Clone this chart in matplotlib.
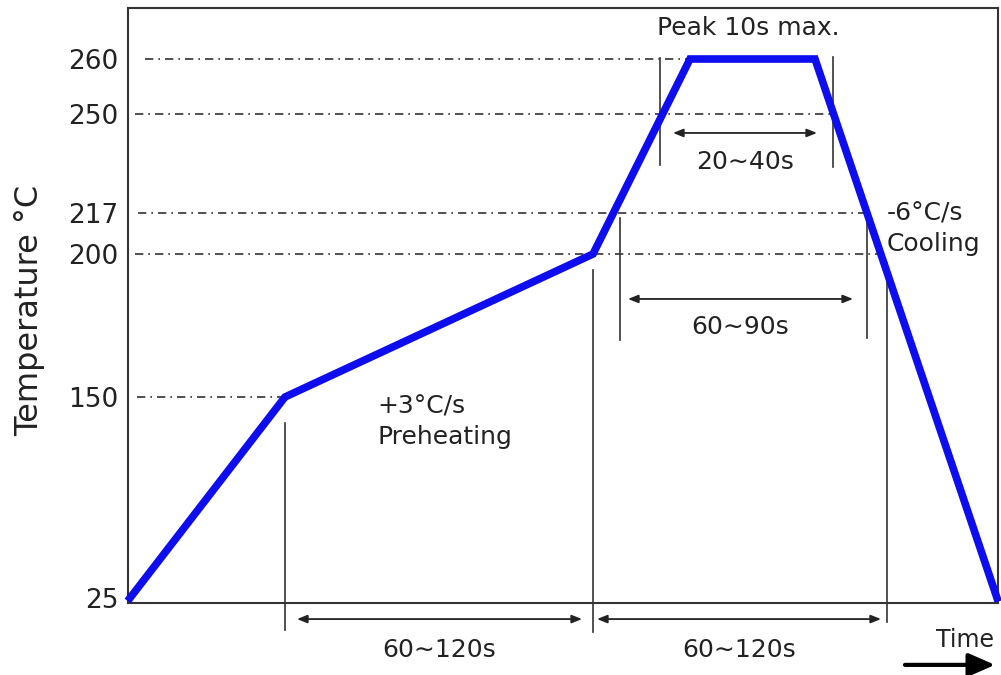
import numpy as np
import matplotlib
matplotlib.use('Agg')
import matplotlib.pyplot as plt

plt.rcParams['font.family'] = ['DejaVu Sans']

# reflow profile (time in arbitrary units, temperature in degC)
profile_time = [0, 155, 463, 560, 685, 867]
profile_temp = [25, 150, 200, 260, 260, 25]

# y ticks and where they sit on the (non linear) axis
tick_temps = [25, 150, 200, 217, 250, 260]
tick_pos = [0, 201, 344, 385, 484, 539]

# dash-dot reference levels: temp, start time, end time
ref_temps = [260, 250, 217, 200, 150]
ref_start = [15, 5, 8, 5, 7]
ref_end = [560, 702, 736, 758, 153]

# vertical marker times and their spans (axes fraction)
mark_time = [155, 463, 530, 703, 490, 737, 757]
mark_lo = [-0.045, -0.049, 0.736, 0.733, 0.442, 0.445, -0.032]
mark_hi = [0.3025, 0.560, 0.916, 0.918, 0.647, 0.652, 0.571]

# dimension arrows: start, end, height (axes fraction), label
dim_start = [543, 498, 167, 467]
dim_end = [687, 723, 452, 751]
dim_y = [0.79, 0.511, -0.027, -0.027]
dim_label = ['20∼40s', '60∼90s', '60∼120s', '60∼120s']
dim_label_y = [0.741, 0.464, -0.079, -0.079]

# piecewise linear temperature axis, extended linearly past both ends
tk = [-100] + tick_temps + [400]
pk = [-125 * 201 / 125] + tick_pos + [539 + 140 * 5.5]


def fwd(t):
    return np.interp(t, tk, pk)


def inv(p):
    return np.interp(p, pk, tk)


fig = plt.figure(figsize=(10.01, 6.75), dpi=100)
ax = fig.add_axes([128 / 1001, 1 - 603 / 675, 870 / 1001, 595 / 675])
ax.set_yscale('function', functions=(fwd, inv))
ax.set_xlim(-2, 868)
ax.set_ylim(inv(-5), inv(590))

ax.plot(profile_time, profile_temp, color='#0d0df0', lw=5.5, solid_joinstyle='miter', zorder=5, clip_on=False)

for t, a, b in zip(ref_temps, ref_start, ref_end):
    ax.plot([a, b], [t, t], color='#333333', lw=1.2, ls=(0, (5, 3, 1, 3)))

for x, lo, hi in zip(mark_time, mark_lo, mark_hi):
    ax.axvline(x, lo, hi, color='#333333', lw=1.2, clip_on=False)

trans = ax.get_xaxis_transform()
for a, b, y, lab, ly in zip(dim_start, dim_end, dim_y, dim_label, dim_label_y):
    ax.annotate('', xy=(b, y), xytext=(a, y), xycoords=trans, textcoords=trans,
                arrowprops=dict(arrowstyle='<|-|>,head_length=0.5,head_width=0.2', color='#222222',
                                lw=1.3, mutation_scale=12, shrinkA=0, shrinkB=0),
                annotation_clip=False)
    ax.text((a + b) / 2, ly, lab, transform=trans, ha='center', va='center', fontsize=18, color='#222222',
            clip_on=False)

ax.text(618, 0.966, 'Peak 10s max.', transform=trans, ha='center', va='center', fontsize=18, color='#222222')
ax.text(757, 0.655, '-6°C/s', transform=trans, ha='left', va='center', fontsize=18, color='#222222')
ax.text(757, 0.603, 'Cooling', transform=trans, ha='left', va='center', fontsize=18, color='#222222')
ax.text(247, 0.331, '+3°C/s', transform=trans, ha='left', va='center', fontsize=18, color='#222222')
ax.text(247, 0.279, 'Preheating', transform=trans, ha='left', va='center', fontsize=18, color='#222222')
ax.text(835, -0.062, 'Time', transform=trans, ha='center', va='center', fontsize=17, color='#222222',
        clip_on=False)
ax.annotate('', xy=(865, -0.104), xytext=(775, -0.104), xycoords=trans, textcoords=trans,
            arrowprops=dict(arrowstyle='-|>,head_length=0.8,head_width=0.35', color='black', lw=3,
                            mutation_scale=20, shrinkA=0, shrinkB=0),
            annotation_clip=False)

ax.set_yticks(tick_temps)
ax.set_yticklabels([str(t) for t in tick_temps])
ax.minorticks_off()
ax.set_xticks([])
ax.tick_params(axis='y', length=0, pad=7, labelsize=19, labelcolor='#222222')
for s in ax.spines.values():
    s.set_linewidth(1.5)
    s.set_color('#333333')

fig.text(30 / 1001, 1 - 310 / 675, 'Temperature °C', rotation=90, ha='center', va='center', fontsize=23,
         color='#222222')

fig.savefig('out.png', dpi=100)
